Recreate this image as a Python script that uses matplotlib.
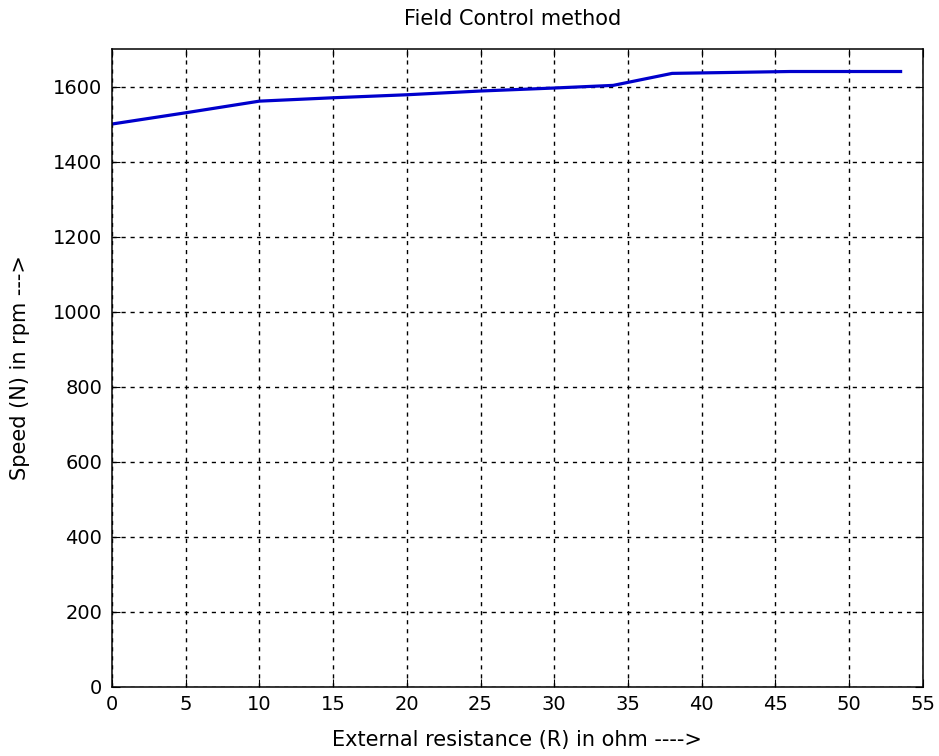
import matplotlib
matplotlib.use("Agg")
import matplotlib.pyplot as plt

# Data
resistance = [0, 5, 10, 15, 20, 25, 30, 34, 38, 46, 53.5]
speed = [1500, 1530, 1561, 1570, 1578, 1588, 1596, 1603, 1635, 1640, 1640]

x_ticks = list(range(0, 56, 5))
y_ticks = list(range(0, 1601, 200))

plt.rcParams["font.family"] = ["DejaVu Sans"]

fig = plt.figure(figsize=(9.39, 7.56), dpi=100)
ax = fig.add_axes([112 / 939, 1 - 686.7 / 756, (922.7 - 112) / 939, (686.7 - 49) / 756])

ax.plot(resistance, speed, color="#0000cc", linewidth=2.3)

ax.set_xlim(0, 55)
ax.set_ylim(0, 1700)
ax.set_xticks(x_ticks)
ax.set_yticks(y_ticks)
ax.grid(True, color="black", linestyle=(0, (3, 3.5)), linewidth=1)
ax.tick_params(direction="in", length=6, top=True, right=True, labelsize=14, pad=7)
ax.tick_params(axis="x", pad=6)
for s in ax.spines.values():
    s.set_linewidth(1.1)

fig.text(513 / 939, 1 - 19 / 756, "Field Control method", fontsize=15,
         ha="center", va="center")
ax.set_xlabel("External resistance (R) in ohm ---->", fontsize=15, va="center")
ax.set_ylabel("Speed (N) in rpm --->", fontsize=15, va="center")
ax.xaxis.set_label_coords(0.5, -0.084)
ax.yaxis.set_label_coords(-0.113, 0.5)

fig.savefig("out.png", dpi=100, facecolor="white")
